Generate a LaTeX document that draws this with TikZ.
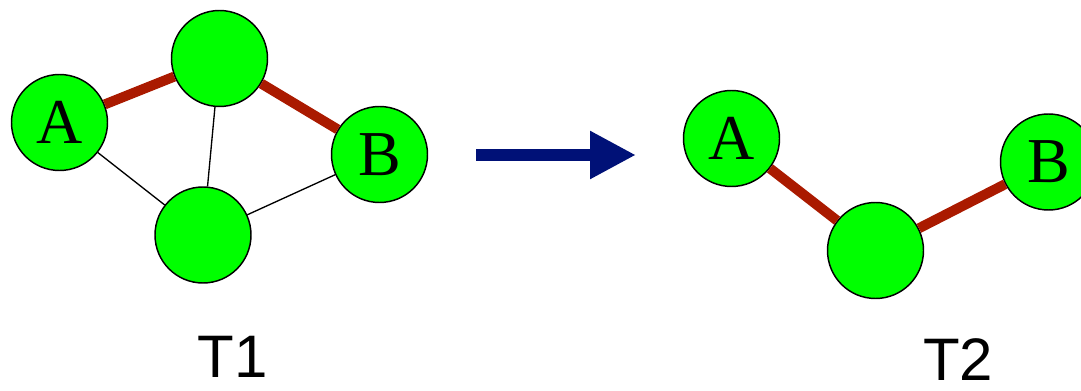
\documentclass[tikz,border=0pt]{standalone}
\usepackage{fontspec}
\setmainfont{Liberation Serif}
\newfontfamily\labelfont{Liberation Sans}
\usetikzlibrary{arrows.meta}
\definecolor{nodegreen}{HTML}{00FF00}
\definecolor{edgered}{HTML}{AA1A00}
\definecolor{arrownavy}{HTML}{001177}
\tikzset{
  vertex/.style={circle, draw=black, line width=1.1pt, fill=nodegreen,
    minimum size=72pt, inner sep=0pt, font=\fontsize{48}{48}\selectfont},
  pathedge/.style={edgered, line width=7.5pt},
  thinedge/.style={black, line width=1pt},
  treelabel/.style={font=\labelfont\fontsize{45}{45}\selectfont,
    anchor=base, text depth=0pt, inner sep=0pt},
}
\begin{document}
\begin{tikzpicture}[x=0.75pt, y=-0.75pt]
  \useasboundingbox (0,0) rectangle (1081,391);

  % T1
  \node[vertex] (A1) at (59.5,122.5) {A};
  \node[vertex] (C1) at (219.5,58.5) {};
  \node[vertex] (B1) at (379.5,154.5) {B};
  \node[vertex] (D1) at (203,235) {};

  \draw[thinedge] (C1) -- (D1);
  \draw[thinedge] (A1) -- (D1);
  \draw[thinedge] (B1) -- (D1);
  \draw[pathedge] (A1) -- (C1);
  \draw[pathedge] (C1) -- (B1);

  % arrow
  \coordinate (arrowstart) at (476,155);
  \coordinate (arrowend) at (636,155);
  \draw[arrownavy, line width=9pt,
    -{Triangle[length=34.5pt, width=33.75pt]}] (arrowstart) -- (arrowend);

  % T2
  \begin{scope}
    \clip (0,0) rectangle (1081,391);
    \node[vertex] (A2) at (731.5,138.5) {A};
    \node[vertex] (D2) at (875.5,250.5) {};
    \node[vertex] (B2) at (1048.5,162) {B};
    \draw[pathedge] (A2) -- (D2);
    \draw[pathedge] (D2) -- (B2);
  \end{scope}

  \node[treelabel] (T1) at (233,378) {T1};
  \node[treelabel] (T2) at (958,380) {T2};
\end{tikzpicture}
\end{document}
